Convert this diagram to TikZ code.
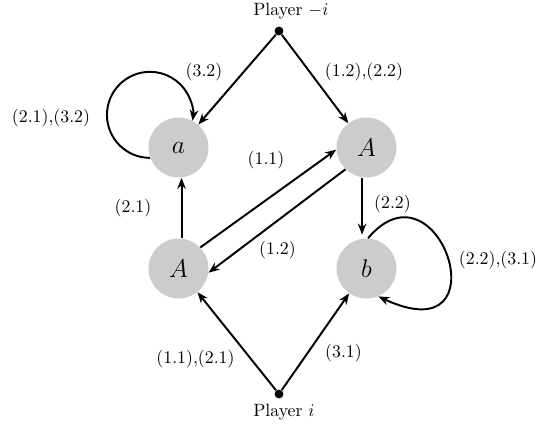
\documentclass[tikz,border=0pt]{standalone}
\usetikzlibrary{arrows.meta}
\begin{document}
\begin{tikzpicture}[x=0.5625pt,y=-0.5625pt,
  state/.style={circle,fill=black!20,minimum size=33.75pt,inner sep=0pt,font=\Large},
  dot/.style={circle,fill=black,minimum size=5pt,inner sep=0pt},
  arr/.style={-{Stealth[length=6.2pt,width=4.8pt]},line width=1.1pt},
  lab/.style={anchor=base,inner sep=0pt},
  plab/.style={anchor=base west,inner sep=0pt}]
\useasboundingbox (0,0) rectangle (537,428);
% states
\node[state] (a)  at (178.5,147.5) {$a$};
\node[state] (A1) at (366.5,147.5) {$A$};
\node[state] (A2) at (178.5,268.5) {$A$};
\node[state] (b)  at (366.5,268.5) {$b$};
% players
\node[dot] (pmi) at (279,31) {};
\node[dot] (pi)  at (279,394) {};
\node[plab] (tpmi) at (253,16) {Player $-i$};
\node[plab] (tpi)  at (253,416) {Player $i$};
% edges from players
\draw[arr] (pmi) -- (a);
\draw[arr] (pmi) -- (A1);
\draw[arr] (pi) -- (A2);
\draw[arr] (pi) -- (b);
% inner edges
\draw[arr] ([xshift=1.7pt]A2.north) -- ([xshift=1.7pt]a.south);
\draw[arr] ([xshift=-2.5pt]A1.south) -- ([xshift=-2.5pt,yshift=2pt]b.north);
\draw[arr] (A2.44) -- (A1.184);
\draw[arr] (A1.226) -- (A2.352);
% loops
\draw[arr] (a.200) arc[start angle=270, end angle=-8, radius=24.2pt];
\draw[arr] (b.87) .. controls +(50:62pt) and +(-25:78.75pt) .. (b.-67);
% labels
\node[lab] (l1) at (204,77) {(3.2)};
\node[lab] (l2) at (364,77) {(1.2),(2.2)};
\node[lab] (l3) at (51,122.5) {(2.1),(3.2)};
\node[lab] (l4) at (266,164) {(1.1)};
\node[lab] (l5) at (133,212.5) {(2.1)};
\node[lab] (l6) at (277.5,254) {(1.2)};
\node[lab] (l7) at (392.5,208) {(2.2)};
\node[lab] (l8) at (498,264) {(2.2),(3.1)};
\node[lab] (l9) at (195.5,363) {(1.1),(2.1)};
\node[lab] (l10) at (343.5,357) {(3.1)};
\end{tikzpicture}
\end{document}
